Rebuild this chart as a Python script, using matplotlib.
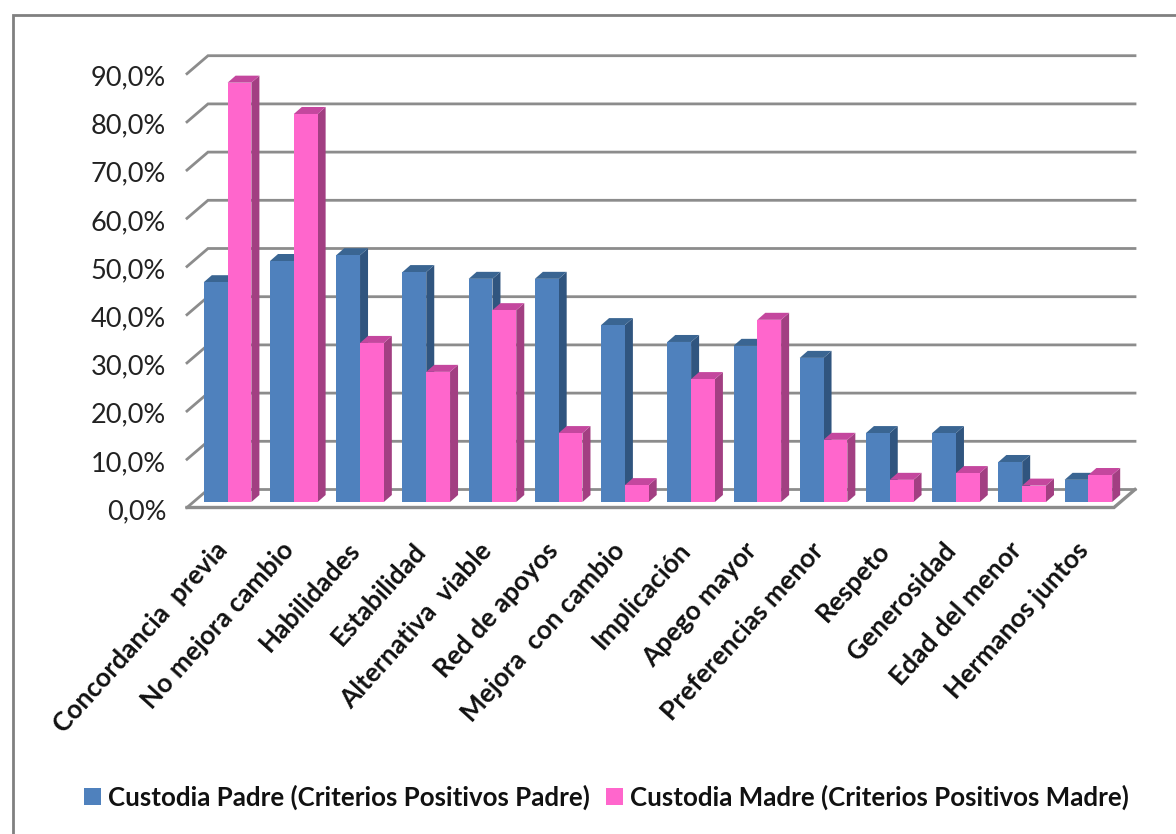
import matplotlib
matplotlib.use('Agg')
import matplotlib.pyplot as plt
from matplotlib.lines import Line2D
from matplotlib.patches import Patch, Polygon
from matplotlib.transforms import ScaledTranslation

categories = ['Concordancia  previa', 'No mejora cambio', 'Habilidades', 'Estabilidad',
              'Alternativa  viable', 'Red de apoyos', 'Mejora  con cambio', 'Implicación',
              'Apego mayor', 'Preferencias menor', 'Respeto', 'Generosidad',
              'Edad del menor', 'Hermanos juntos']
padre = [45.6, 50.0, 51.2, 47.7, 46.3, 46.3, 36.7, 33.2, 32.4, 29.9, 14.3, 14.3, 8.3, 4.6]
madre = [87.0, 80.5, 33.0, 27.0, 39.8, 14.3, 3.5, 25.5, 37.8, 12.9, 4.6, 6.0, 3.4, 5.6]
ticks = [0, 10, 20, 30, 40, 50, 60, 70, 80, 90]
serie_padre = 'Custodia Padre (Criterios Positivos Padre)'
serie_madre = 'Custodia Madre (Criterios Positivos Madre)'

W, H = 1176, 834
AX_L, AX_R, AX_BOTTOM, AX_TOP = 187, 1114, 507.5, 73.7

# fake 3d: depth offsets in axis units
CAT_PX = (AX_R - AX_L) / 14
VAL_PX = (AX_BOTTOM - AX_TOP) / 90
WALL_DX = 21 / CAT_PX
WALL_DY = 18 / VAL_PX
PLANE_DX = 7.5 / CAT_PX
PLANE_DY = 5.5 / VAL_PX
BAR_DX = 8 / CAT_PX
BAR_DY = 7 / VAL_PX
BAR_W = 23.8 / CAT_PX
LABEL_SHIFT = 6 / CAT_PX

GRID = '#8c8c8c'

plt.rcParams['font.family'] = ['Lato', 'DejaVu Sans']

fig = plt.figure(figsize=(W / 100, H / 100), dpi=100)
# only top and left of the frame are inside the picture
fig.add_artist(Line2D([12.5 / W, 12.5 / W, 1], [0, 1 - 14.5 / H, 1 - 14.5 / H], transform=fig.transFigure,
                      color='#808080', lw=2, solid_joinstyle='miter'))

ax = fig.add_axes([AX_L / W, 1 - AX_BOTTOM / H, (AX_R - AX_L) / W, (AX_BOTTOM - AX_TOP) / H])
ax.set_xlim(0, 14)
ax.set_ylim(0, 90)
ax.patch.set_alpha(0)
for s in ax.spines.values():
    s.set_visible(False)


def bar3d(x, v, front, side, top):
    x0 = x + PLANE_DX
    x1 = x0 + BAR_W
    y0 = PLANE_DY
    y1 = v + PLANE_DY
    ax.add_patch(Polygon([(x1, y0), (x1 + BAR_DX, y0 + BAR_DY), (x1 + BAR_DX, y1 + BAR_DY), (x1, y1)],
                         facecolor=side, edgecolor='none', clip_on=False, zorder=3))
    ax.add_patch(Polygon([(x0, y1), (x0 + BAR_DX, y1 + BAR_DY), (x1 + BAR_DX, y1 + BAR_DY), (x1, y1)],
                         facecolor=top, edgecolor='none', clip_on=False, zorder=3))
    ax.add_patch(Polygon([(x0, y0), (x1, y0), (x1, y1), (x0, y1)],
                         facecolor=front, edgecolor='none', clip_on=False, zorder=3.1))


# walls and floor
for t in ticks:
    ax.plot([0, WALL_DX, 14 + WALL_DX], [t, t + WALL_DY, t + WALL_DY], color=GRID, lw=2,
            clip_on=False, zorder=1, solid_joinstyle='miter')
ax.plot([0, 14, 14 + WALL_DX], [0, 0, WALL_DY], color=GRID, lw=2.4, clip_on=False, zorder=1,
        solid_joinstyle='miter')

for i in range(len(categories)):
    bar3d(i + 0.5 - BAR_W, padre[i], '#4f81bd', '#30557f', '#3a6592')
    bar3d(i + 0.5, madre[i], '#ff66cc', '#a23f82', '#c4479e')

ax.set_yticks(ticks)
ax.set_yticklabels([f'{t:.1f}%'.replace('.', ',') for t in ticks], fontsize=19.5, color='#222222',
                   va='center')
ax.tick_params(axis='y', length=0, pad=15)
# tick labels sit a little lower than the ticks in the original
down = ScaledTranslation(0, -3 / 72, fig.dpi_scale_trans)
for lab in ax.get_yticklabels():
    lab.set_transform(lab.get_transform() + down)
ax.set_xticks([i + 0.5 - LABEL_SHIFT for i in range(len(categories))])
ax.set_xticklabels(categories, rotation=48, ha='right', rotation_mode='anchor',
                   fontsize=19, fontweight='bold', color='#111111')
ax.tick_params(axis='x', length=0, pad=22)

handles = [Patch(facecolor='#4f81bd', label=serie_padre), Patch(facecolor='#ff66cc', label=serie_madre)]
fig.legend(handles=handles, loc='center', bbox_to_anchor=(606.5 / W, 1 - 797 / H), ncol=2, frameon=False,
           prop={'size': 18.6, 'weight': 'bold'}, handlelength=0.66, handleheight=0.66,
           handletextpad=0.27, columnspacing=0.62, labelcolor='#111111')

fig.savefig('out.png', dpi=100)
